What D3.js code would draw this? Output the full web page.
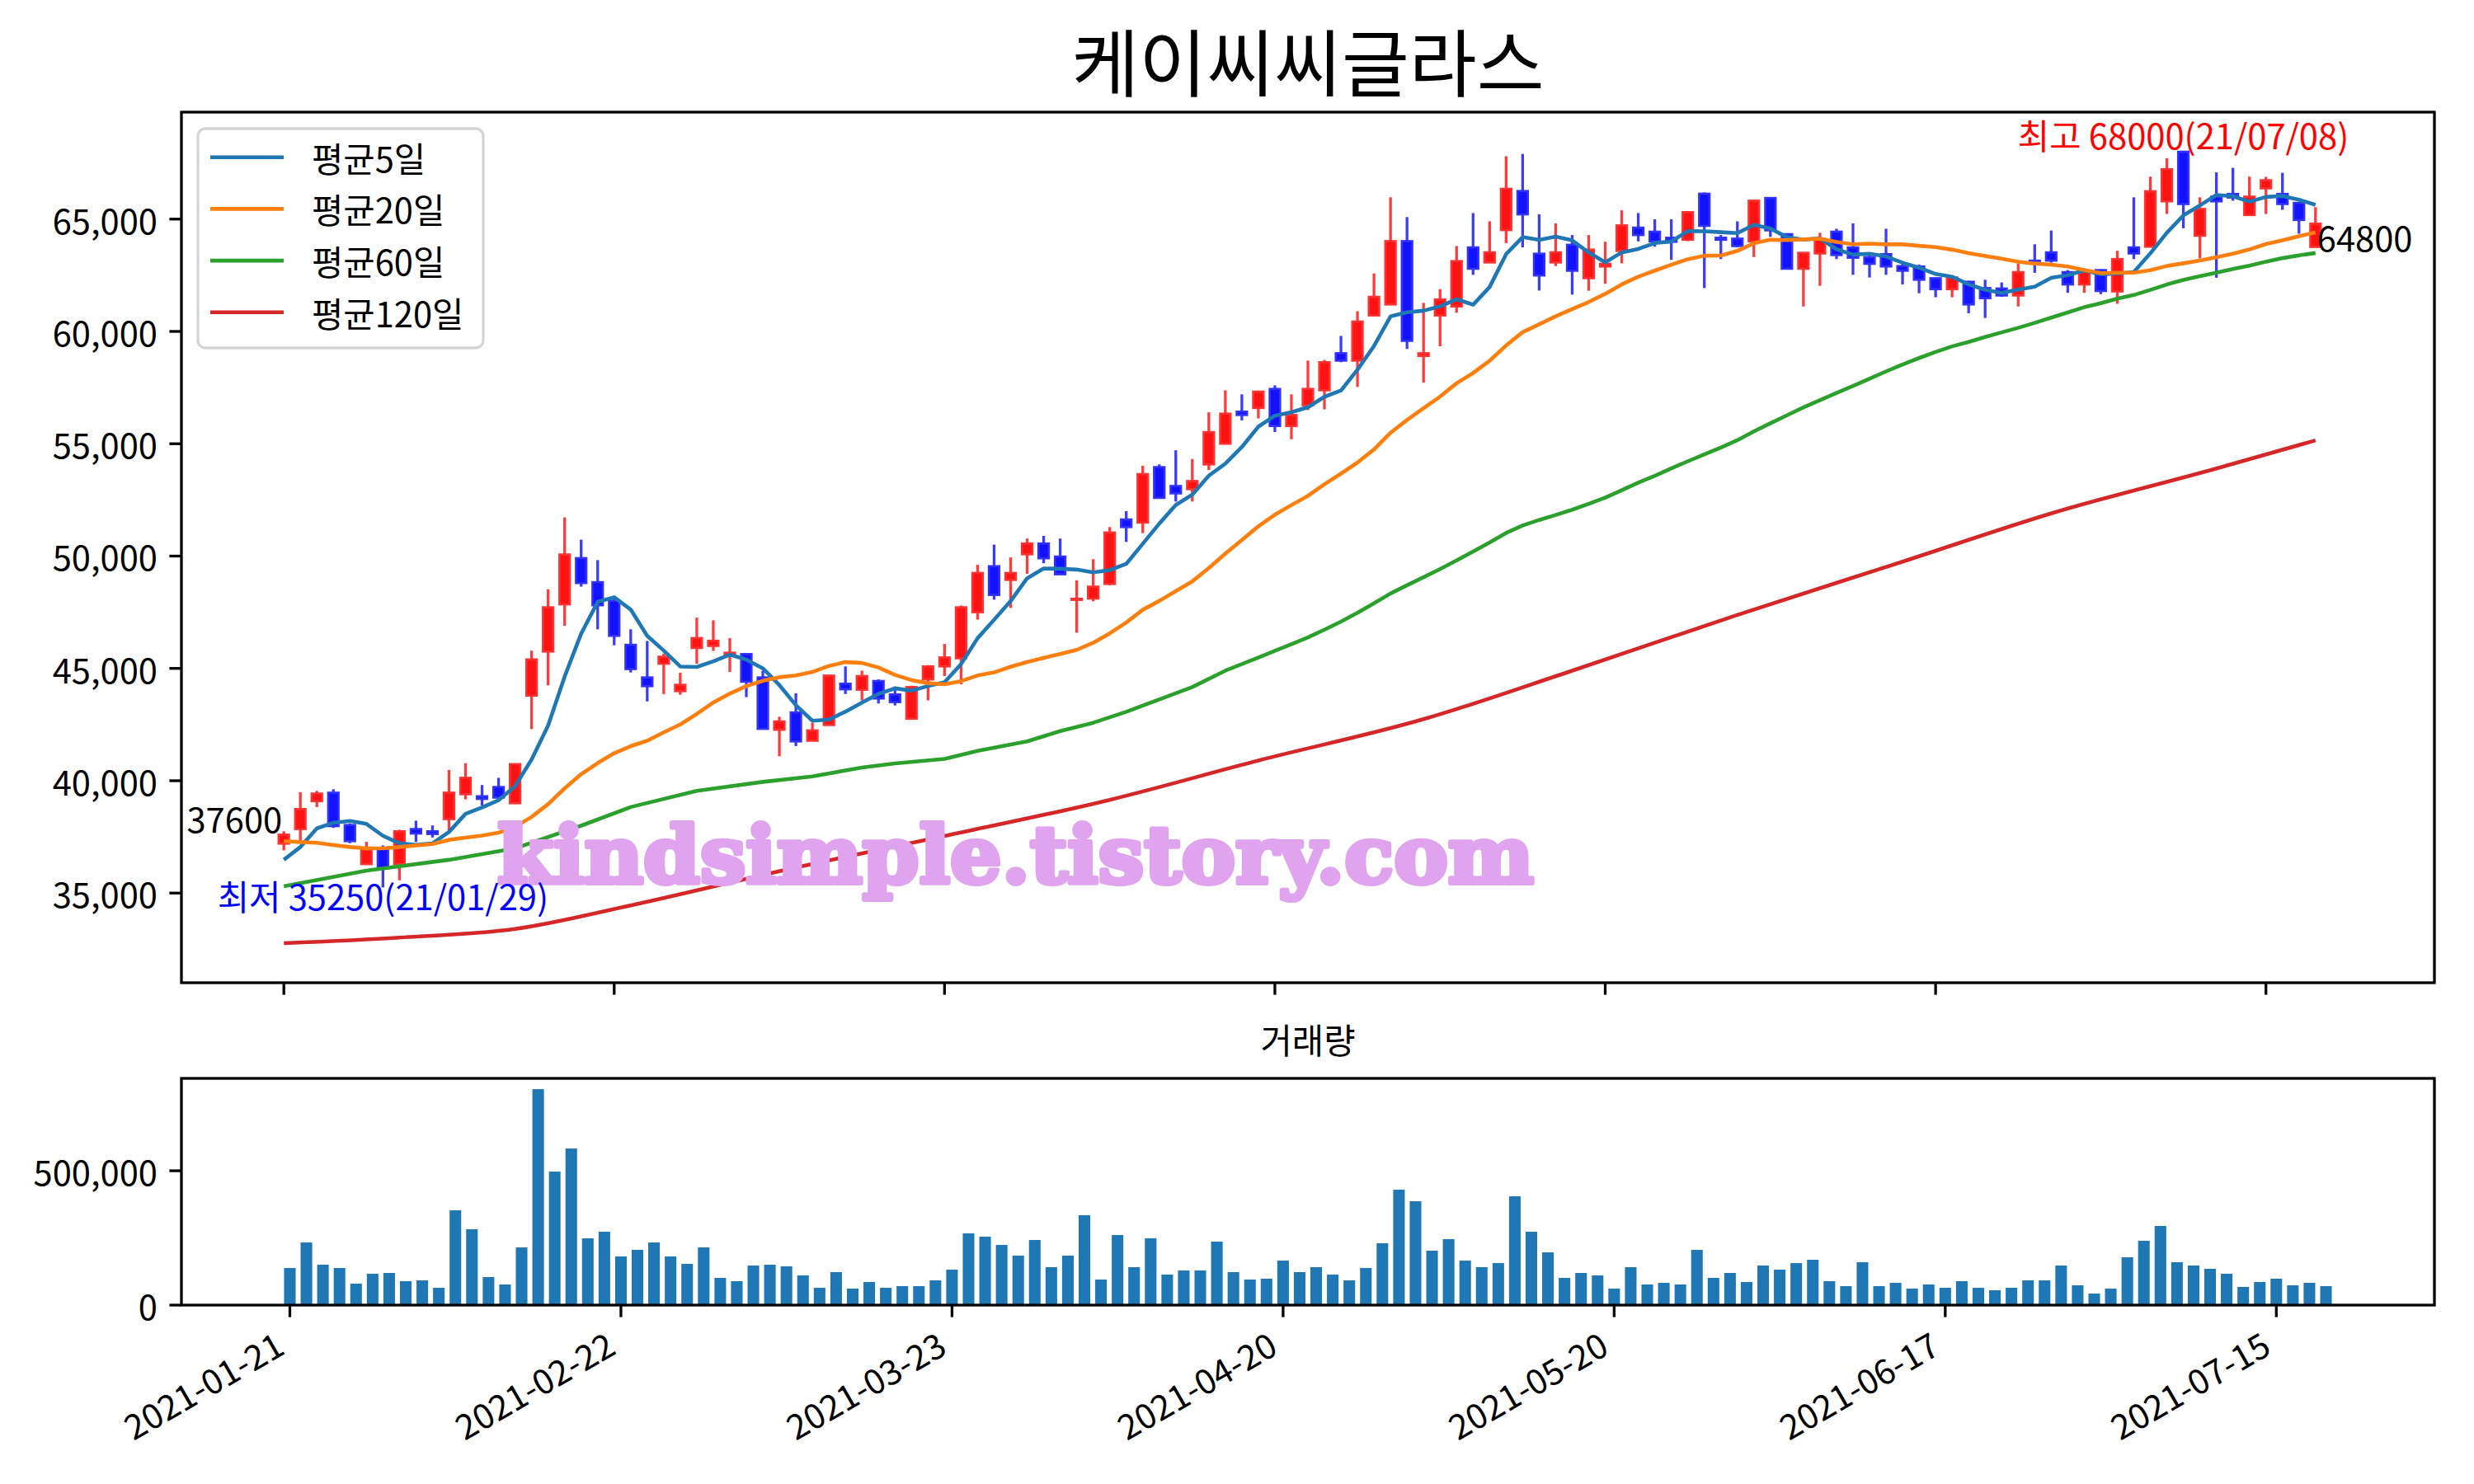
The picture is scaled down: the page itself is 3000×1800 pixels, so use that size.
<!DOCTYPE html>
<html><head><meta charset="utf-8">
<script src="https://cdn.jsdelivr.net/npm/d3@7"></script>
<style>body{margin:0;background:#fff}</style>
</head><body><svg id="c" width="3000" height="1800"></svg>
<script>
const chartTitle = "케이씨씨글라스";
const volumeTitle = "거래량";
const tickIdx = [0,20,40,60,80,100,120];
const tickLabels = ["2021-01-21","2021-02-22","2021-03-23","2021-04-20","2021-05-20","2021-06-17","2021-07-15"];
const priceTicks = [35000,40000,45000,50000,55000,60000,65000];
const volTicks = [0,500000];
const legendLabels = ["평균5일","평균20일","평균60일","평균120일"];
const extremeDates = ["21/01/29","21/07/08"];

const opens = [37200,37850,39090,39470,38030,36290,36990,36290,37850,37750,
38290,39400,39310,39720,39000,43790,45750,47850,49910,48840,
48010,46050,44600,45210,43990,45910,46000,45580,45640,44600,
42270,43040,41780,42480,44320,44050,44440,43840,42760,44510,
45090,45450,47500,49550,48940,50080,50560,49980,48050,48110,
48760,51630,51490,53960,53120,52980,54080,55000,56430,56590,
57440,55790,56710,57380,59030,58700,60710,61200,64020,58910,
60710,61110,63740,63070,64510,66250,63460,63070,63860,62370,
62890,63580,64620,64440,64170,64080,66130,64170,64130,64010,
65940,64330,62790,63470,64440,63740,63310,63440,62910,62890,
62370,61880,62210,61930,61910,61600,63150,63520,62640,62090,
62730,61780,63740,63770,65790,68000,64260,66000,66120,65180,
66370,66120,65720,63760];
const highs = [37750,39490,39550,39620,38100,37280,37120,37820,38220,38010,
40480,40780,39810,40130,40760,45790,48520,51720,50730,49820,
48170,46740,46220,45660,44810,47260,47140,46350,45660,44900,
42850,43890,42580,44720,45090,44900,44510,44190,44230,45150,
46090,47800,49610,50510,49940,50780,50900,50780,48920,49860,
51290,52000,54020,54080,54710,54320,56400,57380,57200,57360,
57600,57200,58700,58730,59800,60900,62580,65970,65090,61270,
61880,63800,65270,64900,67800,67900,65210,64810,64290,64290,
63990,65390,65270,64990,64990,65330,66190,64290,64900,65850,
65970,64350,63520,64390,64570,64810,63520,64570,63110,62980,
62400,62420,62250,62300,62180,63030,63880,64490,62730,62660,
62760,63590,65970,66890,67710,68000,65970,67080,67280,66890,
66880,67060,65720,65530];
const lows = [36900,37250,38830,37900,37220,36270,35250,35570,37270,37470,
37750,39170,38900,39170,38960,42300,44250,46900,48640,46740,
46030,44820,43530,43860,43830,45210,45780,44840,43720,42270,
41090,41540,41780,42460,43860,43580,43440,43350,42730,43580,
44660,44290,47170,48060,47690,49210,49680,49160,46590,47990,
48700,50630,51020,52550,52430,52430,53830,55000,56040,56130,
55520,55200,56500,56530,58630,57530,60710,61200,59220,57720,
59340,60830,62520,63070,63930,63740,61820,62910,61640,61810,
62120,63030,64010,63770,63190,64020,61930,63220,63740,63310,
64210,62760,61110,62030,63220,62520,62400,62520,62090,61700,
61520,61520,60810,60600,61540,61110,62610,63060,61720,61720,
61660,61230,63220,63740,65230,64590,63250,62390,65820,65180,
65230,65410,64350,63740];
const closes = [37600,38740,39430,37980,37310,36930,36100,37750,37650,37630,
39470,40130,39190,39250,40740,45400,47720,50070,48800,47810,
46450,44970,44210,45520,44270,46350,46230,45700,44410,42310,
42640,41750,42240,44680,44070,44660,43660,43500,44170,45090,
45490,47720,49250,48270,49250,50560,49900,49190,48100,48640,
51050,51290,53650,52590,52790,53340,55520,56340,56280,57320,
55790,56280,57440,58630,58700,60440,61540,64020,59580,59030,
61420,63130,62790,63520,66350,65210,62490,63520,62700,63640,
63010,64720,64290,64010,63990,65310,64700,64080,63800,65820,
64500,62790,63500,64110,63400,63280,63010,62890,62700,62300,
61880,62400,61200,61480,61600,62640,63050,63150,62090,62640,
61800,63220,63470,66240,67220,65670,65450,65790,65960,66000,
66730,65670,64960,64800];
const volumes = [138000,233100,150300,138000,79800,116600,119600,89000,92000,64400,
352800,282200,104300,76700,214700,803700,496900,582800,248500,273000,
181000,205500,233100,181000,153400,214700,101200,89000,147200,150300,
144200,110400,64400,122700,61400,85900,64400,70600,70600,92000,
131900,266900,254600,223900,184100,242300,141100,184100,334400,95100,
260700,141100,248500,113500,128800,128800,236200,122700,95100,98200,
165600,122700,141100,113500,92000,138000,230100,429500,386500,202500,
245400,165600,141100,156400,404900,273000,196300,101200,119600,110400,
61400,141100,76700,82800,76700,205500,101200,119600,85900,147200,
131900,156400,168700,89000,70600,159500,70600,82800,61400,76700,
64400,89000,64400,55200,64400,92000,92000,147200,73600,42900,
61400,177900,239300,294500,159500,147200,135000,116600,67500,85900,
98200,73600,82800,70600];

const ma5Head = [36480,37050,37880,38130];
const ma20Head = [37310,37270,37240,37140,37050,36990,36990,37050,37120,37180,
37370,37470,37560,37690,37940,38390,38960,39660,40290];
const ma60Head = [[0,35300],[5,36000],[10,36480],[14,36990],[18,38000],[21,38830],[25,39550],
[29,39950],[32,40190],[35,40590],[37,40770],[40,40970],[42,41330],[45,41750],[47,42210],
[49,42580],[51,43070],[53,43620],[55,44170],[57,44900]];
const ma120Pts = [[0,32770],[7,33020],[14,33400],[21,34450],[31,36140],[40,37540],[50,39150],
[59,40900],[69,42740],[78,44900],[88,47380],[98,49750],[107,51900],[117,53900],[123,55150]];

const N = closes.length;
function rolling(w, head) {
  const out = [];
  for (let i = 0; i < N; i++) {
    if (i < w - 1) out.push([i, head[i]]);
    else out.push([i, d3.mean(closes.slice(i - w + 1, i + 1))]);
  }
  return out;
}
const ma5 = rolling(5, ma5Head);
const ma20 = rolling(20, ma20Head);
const ma60 = ma60Head.concat(d3.range(59, N).map(i => [i, d3.mean(closes.slice(i - 59, i + 1))]));
const ma120 = ma120Pts;

const FONT = "'Noto Sans CJK KR','Noto Sans',sans-serif";
const FS = 41.7;
const svg = d3.select("#c");
svg.append("rect").attr("width",3000).attr("height",1800).attr("fill","#fff");

const M = {l:220, r:2952, t:136, b:1192};
const V = {t:1308, b:1583};

const x = d3.scaleLinear().domain([-6.2, N + 6.2]).range([M.l, M.r]);
const xv = d3.scaleLinear().domain([-6.55, N - 1 + 6.55]).range([M.l, M.r]);
const lo = d3.min([d3.min(lows), d3.min(ma120, d => d[1])]);
const hi = d3.max(highs);
const pad = (hi - lo) * 0.05;
const y = d3.scaleLinear().domain([lo - pad, hi + pad]).range([M.b, M.t]);
const yv = d3.scaleLinear().domain([0, d3.max(volumes) * 1.05]).range([V.b, V.t]);

// title
svg.append("text").attr("x",(M.l+M.r)/2).attr("y",110).attr("text-anchor","middle")
  .attr("font-family",FONT).attr("font-size",89).text(chartTitle);

// candles
const step = x(1) - x(0);
const g = svg.append("g");
for (let i = 0; i < N; i++) {
  const up = closes[i] >= opens[i];
  const wick = up ? "rgb(255,60,60)" : "rgb(60,60,255)";
  const fill = up ? "rgb(255,18,18)" : "rgb(18,18,255)";
  const edge = up ? "rgb(255,50,50)" : "rgb(50,50,255)";
  g.append("line").attr("x1",x(i)).attr("x2",x(i)).attr("y1",y(highs[i])).attr("y2",y(lows[i]))
    .attr("stroke",wick).attr("stroke-width",3.3);
  const yt = y(Math.max(opens[i],closes[i])), yb = y(Math.min(opens[i],closes[i]));
  const bw = step*0.63;
  g.append("rect").attr("x",x(i)-bw/2).attr("y",yt).attr("width",bw).attr("height",Math.max(0.8,yb-yt))
    .attr("fill",fill).attr("stroke",edge).attr("stroke-width",2.6);
}

// moving averages
const maColors = ["#1f77b4","#ff7f0e","#2ca02c","#d62728"];
const line = d3.line().x(d => x(d[0])).y(d => y(d[1]));
const smooth = d3.line().x(d => x(d[0])).y(d => y(d[1])).curve(d3.curveMonotoneX);
[ma5, ma20, ma60, ma120].forEach((s, k) => {
  svg.append("path").attr("d", (k === 3 ? smooth : line)(s)).attr("fill","none").attr("stroke",maColors[k])
    .attr("stroke-width",4.6).attr("stroke-linejoin","round");
});

// watermark
svg.append("text").attr("x", x(44.3)).attr("y", y(35450)).attr("text-anchor","middle")
  .attr("font-family","'DejaVu Serif',serif").attr("font-weight","bold").attr("font-size",96)
  .attr("textLength",1257).attr("lengthAdjust","spacingAndGlyphs")
  .attr("fill","#e0a4ee").attr("stroke","#e0a4ee").attr("stroke-width",6).attr("stroke-linejoin","round")
  .text("kindsimple.tistory.com");

// annotations
svg.append("text").attr("x", x(0) - 2).attr("y", y(closes[0]) - 2).attr("text-anchor","end")
  .attr("font-family",FONT).attr("font-size",FS).text(String(closes[0]));
svg.append("text").attr("x", x(N-1) + 2).attr("y", y(closes[N-1]) + 34).attr("text-anchor","start")
  .attr("font-family",FONT).attr("font-size",FS).text(String(closes[N-1]));
const loIdx = lows.indexOf(d3.min(lows));
const hiIdx = highs.indexOf(d3.max(highs));
svg.append("text").attr("x", x(loIdx)).attr("y", y(lows[loIdx]) + 28).attr("text-anchor","middle")
  .attr("font-family",FONT).attr("font-size",FS).attr("fill","#0000ff")
  .text(`최저 ${lows[loIdx]}(${extremeDates[0]})`);
svg.append("text").attr("x", x(hiIdx)).attr("y", y(highs[hiIdx]) - 3).attr("text-anchor","middle")
  .attr("font-family",FONT).attr("font-size",FS).attr("fill","#ff0000")
  .text(`최고 ${highs[hiIdx]}(${extremeDates[1]})`);

// legend
const lg = svg.append("g");
lg.append("rect").attr("x",240).attr("y",156).attr("width",346).attr("height",266).attr("rx",9)
  .attr("fill","#fff").attr("fill-opacity",0.8).attr("stroke","#d5d5d5").attr("stroke-width",3.3);
legendLabels.forEach((t, k) => {
  const yy = 190.7 + k*62.7;
  lg.append("line").attr("x1",255).attr("x2",344).attr("y1",yy).attr("y2",yy)
    .attr("stroke",maColors[k]).attr("stroke-width",4.6);
  lg.append("text").attr("x",378).attr("y",yy).attr("dominant-baseline","central")
    .attr("font-family",FONT).attr("font-size",FS).text(t);
});

// main frame & ticks
const fmt = d3.format(",");
priceTicks.forEach(v => {
  svg.append("line").attr("x1",M.l-14.6).attr("x2",M.l).attr("y1",y(v)).attr("y2",y(v))
    .attr("stroke","#000").attr("stroke-width",3.3);
  svg.append("text").attr("x",M.l-29).attr("y",y(v)).attr("text-anchor","end")
    .attr("dominant-baseline","central").attr("font-family",FONT).attr("font-size",FS).text(fmt(v));
});
tickIdx.forEach(i => {
  svg.append("line").attr("x1",x(i)).attr("x2",x(i)).attr("y1",M.b).attr("y2",M.b+14.6)
    .attr("stroke","#000").attr("stroke-width",3.3);
});
svg.append("rect").attr("x",M.l).attr("y",M.t).attr("width",M.r-M.l).attr("height",M.b-M.t)
  .attr("fill","none").attr("stroke","#000").attr("stroke-width",3.3);

// volume
svg.append("text").attr("x",(M.l+M.r)/2).attr("y",1278).attr("text-anchor","middle")
  .attr("font-family",FONT).attr("font-size",FS).text(volumeTitle);
const vstep = xv(1) - xv(0);
svg.append("g").selectAll("rect").data(volumes).join("rect")
  .attr("x",(d,i)=>xv(i)-vstep*0.35).attr("width",vstep*0.7)
  .attr("y",d=>yv(d)).attr("height",d=>yv(0)-yv(d)).attr("fill","#1f77b4");
volTicks.forEach(v => {
  svg.append("line").attr("x1",M.l-14.6).attr("x2",M.l).attr("y1",yv(v)).attr("y2",yv(v))
    .attr("stroke","#000").attr("stroke-width",3.3);
  svg.append("text").attr("x",M.l-29).attr("y",yv(v)).attr("text-anchor","end")
    .attr("dominant-baseline","central").attr("font-family",FONT).attr("font-size",FS).text(fmt(v));
});
tickIdx.forEach((i, k) => {
  svg.append("line").attr("x1",xv(i)).attr("x2",xv(i)).attr("y1",V.b).attr("y2",V.b+14.6)
    .attr("stroke","#000").attr("stroke-width",3.3);
  svg.append("text").attr("transform",`translate(${xv(i)-4},${V.b+58}) rotate(-30)`)
    .attr("text-anchor","end").attr("font-family",FONT).attr("font-size",FS).text(tickLabels[k]);
});
svg.append("rect").attr("x",M.l).attr("y",V.t).attr("width",M.r-M.l).attr("height",V.b-V.t)
  .attr("fill","none").attr("stroke","#000").attr("stroke-width",3.3);
</script></body></html>
